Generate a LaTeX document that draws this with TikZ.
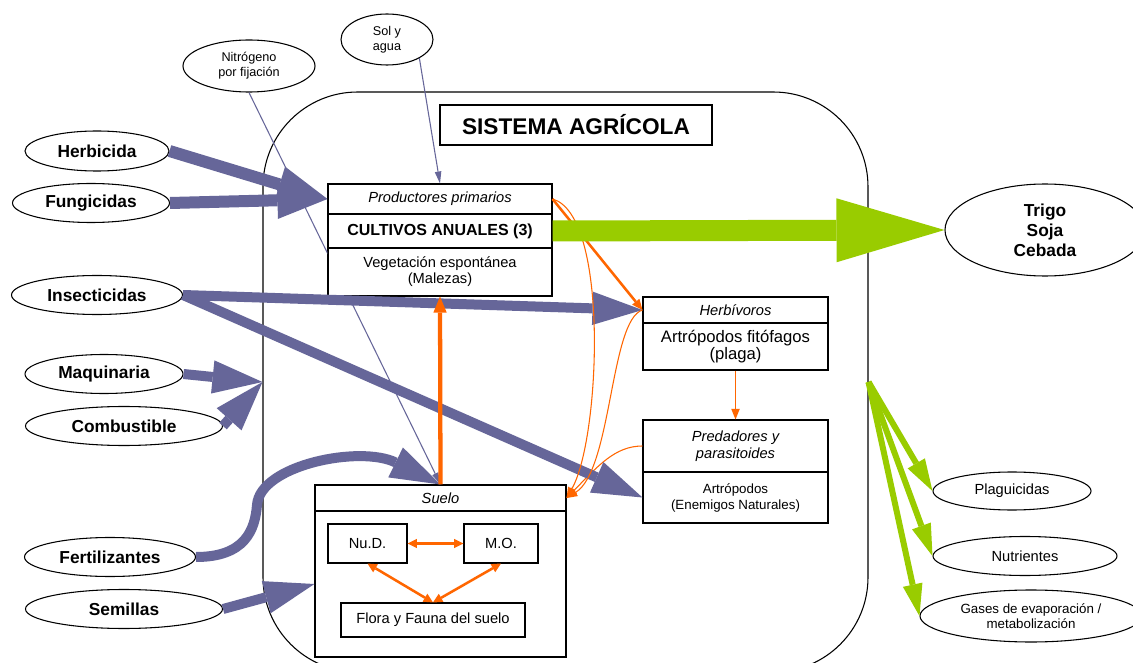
\documentclass[tikz,border=0pt]{standalone}
\usepackage{fontspec}
\setmainfont{Liberation Sans}
\usetikzlibrary{arrows.meta,shapes.geometric}
\definecolor{pur}{HTML}{666699}
\definecolor{ora}{HTML}{FF6600}
\definecolor{gre}{HTML}{99CC00}
\begin{document}
\begin{tikzpicture}[x=0.75pt,y=-0.75pt,
  ell/.style={draw, ellipse, inner sep=0pt, line width=0.8pt, align=center, fill=white},
  box/.style={draw, rectangle, inner sep=0pt, line width=0.8pt, align=center, fill=white},
  sz/.style 2 args={minimum width=#1*0.75pt, minimum height=#2*0.75pt},
  lbl/.style={font=\fontsize{13}{15}\selectfont\bfseries},
  purthick/.style={color=pur, line width=7.5pt, -{Triangle[length=37.5pt,width=25pt,line width=0pt]}},
  purheavy/.style={color=pur, line width=9pt, -{Triangle[length=37.5pt,width=28pt,line width=0pt]}},
  purthin/.style={color=pur, line width=0.8pt, -{Triangle[length=9pt,width=5pt,line width=0pt]}},
  grnbig/.style={color=gre, line width=15.75pt, -{Triangle[length=81pt,width=48pt,line width=0pt]}},
  grnthin/.style={color=gre, line width=4.5pt, -{Triangle[length=24pt,width=15pt,line width=0pt]}},
  orthick/.style={color=ora, line width=3.2pt, -{Triangle[length=12pt,width=10pt,line width=0pt]}},
  ormed/.style={color=ora, line width=1.9pt, -{Triangle[length=8pt,width=7pt,line width=0pt]}},
  orthin/.style={color=ora, line width=0.8pt, -{Triangle[length=8pt,width=6.5pt,line width=0pt]}},
  ordbl/.style={color=ora, line width=1.9pt, {Triangle[length=7pt,width=7pt,line width=0pt]}-{Triangle[length=7pt,width=7pt,line width=0pt]}}
]
\useasboundingbox[fill=white] (0,0) rectangle (1133,663);

% system boundary
\node[draw, line width=0.8pt, rounded corners=71pt, sz={605}{580}, inner sep=0pt] (sys) at (565.5,382) {};

% outer ellipses
\node[ell, sz={144}{40}, lbl] (herb) at (97,151) {Herbicida};
\node[ell, sz={157}{39}, lbl] (fung) at (91,203) {Fungicidas};
\node[ell, sz={171}{39}, lbl] (insect) at (97,295) {Insecticidas};
\node[ell, sz={158}{39}, lbl] (maq) at (104,374) {Maquinaria};
\node[ell, sz={197}{39}, lbl] (comb) at (124,426) {Combustible};
\node[ell, sz={171}{39}, lbl] (fert) at (110,557) {Fertilizantes};
\node[ell, sz={197}{39}, lbl] (sem) at (124,609) {Semillas};
\node[ell, sz={132}{52}, font=\fontsize{9.5}{11.25}\selectfont] (nitro) at (249,66) {Nitrógeno\\por fijación};
\node[ell, sz={92}{51}, font=\fontsize{9.5}{11.25}\selectfont] (sol) at (387,39.5) {Sol y\\agua};
\node[ell, sz={200}{92}, lbl] (trigo) at (1045,230) {Trigo\\Soja\\Cebada};
\node[ell, sz={158}{38}, font=\fontsize{11}{13}\selectfont] (plag) at (1012,491) {Plaguicidas};
\node[ell, sz={184}{39}, font=\fontsize{11}{13}\selectfont] (nutr) at (1025,556) {Nutrientes};
\node[ell, sz={222}{52}, font=\fontsize{10}{11.25}\selectfont] (gases) at (1031,616) {Gases de evaporación /\\metabolización};

% boxes
\node[box, sz={272}{40}, font=\fontsize{17}{20}\selectfont\bfseries] (sist) at (576,125) {SISTEMA AGRÍCOLA};
\node[box, sz={224}{30}, font=\fontsize{11}{13}\selectfont\itshape] (prodT) at (440,199) {Productores primarios};
\node[box, sz={224}{34}, font=\fontsize{12}{14}\selectfont\bfseries] (prodC) at (440,231) {CULTIVOS ANUALES (3)};
\node[box, sz={224}{48}, font=\fontsize{11}{12}\selectfont] (prodV) at (440,272) {Vegetación espontánea\\(Malezas)};
\node[box, sz={185}{26}, font=\fontsize{11}{13}\selectfont\itshape] (herbT) at (735.5,310) {Herbívoros};
\node[box, sz={185}{47}, font=\fontsize{12.5}{13}\selectfont] (herbB) at (735.5,346.5) {Artrópodos fitófagos\\(plaga)};
\node[box, sz={185}{52}, font=\fontsize{11}{12.75}\selectfont\itshape] (predT) at (735.5,446) {Predadores y\\parasitoides};
\node[box, sz={185}{51}, font=\fontsize{10}{12}\selectfont] (predB) at (735.5,497.5) {Artrópodos\\(Enemigos Naturales)};
\node[box, sz={251}{26}, font=\fontsize{11}{13}\selectfont\itshape] (sueloT) at (440.5,498) {Suelo};
\node[box, sz={251}{146}] (sueloB) at (440.5,584) {};
\node[box, sz={79}{39}, font=\fontsize{11}{13}\selectfont] (nud) at (367.5,543.5) {Nu.D.};
\node[box, sz={74}{39}, font=\fontsize{11}{13}\selectfont] (mo) at (501,543.5) {M.O.};
\node[box, sz={184}{34}, font=\fontsize{11}{13}\selectfont] (flora) at (433,620) {Flora y Fauna del suelo};

% orange curve under purple arrows
\draw[orthin] (predT.west) .. controls (615,446) and (598,466) .. (sueloT.east);

% purple input arrows
\draw[purheavy] (herb.east) -- (prodT.west);
\draw[purheavy] (fung.east) -- (prodT.west);
\draw[purthick] (insect.east) -- (herbT.west);
\draw[purthick] (insect.east) -- (predB.west);
\draw[purthick] (maq.east) -- (sys.west);
\draw[purthick] (comb.east) -- (sys.west);
\draw[purthick] (fert.east) .. controls (245,557) and (255,530) .. (257,505) .. controls (260,465) and (360,445) .. (sueloT.north);
\draw[purthick] (sem.east) -- (sueloB.west);

% thin purple lines (hidden inside the producers box)
\begin{scope}[even odd rule]
  \clip (0,0) rectangle (1133,663) (prodT.north west) rectangle (prodV.south east);
  \draw[purthin] (nitro.south) -- (sueloT.north);
\end{scope}
\draw[purthin] (sol.-30) -- (prodT.north);

% orange flows
\draw[orthick] (sueloT.north) -- (prodV.south);
\draw[ormed] (prodT.east) -- (herbT.west);
\draw[orthin] (prodT.east) .. controls (610,215) and (600,440) .. (sueloT.east);
\draw[orthin] (herbT.west) .. controls (610,320) and (612,470) .. (sueloT.east);
\draw[orthin] (herbB.south) -- (predT.north);
\draw[ordbl] (nud.east) -- (mo.west);
\draw[ordbl] (nud.south) -- (flora.north);
\draw[ordbl] (mo.south) -- (flora.north);

% green outputs
\draw[grnbig] (prodC.east) -- (trigo.west);
\draw[grnthin] (sys.east) -- (plag.west);
\draw[grnthin] (sys.east) -- (nutr.west);
\draw[grnthin] (sys.east) -- (gases.west);
\end{tikzpicture}
\end{document}
